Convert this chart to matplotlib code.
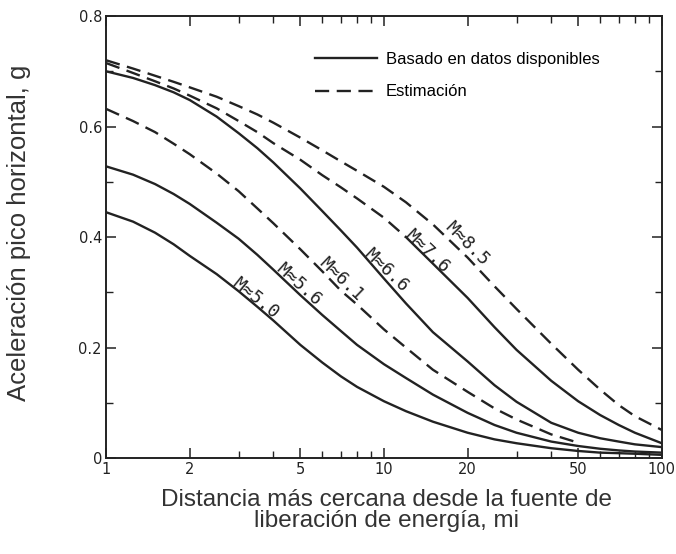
import matplotlib
matplotlib.use("Agg")
import matplotlib.pyplot as plt
from matplotlib.lines import Line2D
from matplotlib.ticker import FixedLocator, NullFormatter

# distance to energy release (mi)
dist = [1, 1.25, 1.5, 1.75, 2, 2.5, 3, 3.5, 4, 5, 6, 7, 8, 10, 12, 15, 20, 25, 30, 40, 50, 60, 70, 80, 100]

# peak horizontal acceleration (g) for each magnitude
acc_50 = [0.445, 0.428, 0.408, 0.387, 0.366, 0.333, 0.302, 0.274, 0.249, 0.205, 0.173, 0.148, 0.129,
          0.103, 0.085, 0.066, 0.046, 0.034, 0.027, 0.018, 0.013, 0.010, 0.009, 0.008, 0.006]
acc_56 = [0.528, 0.513, 0.496, 0.478, 0.460, 0.426, 0.397, 0.368, 0.341, 0.295, 0.259, 0.230, 0.205,
          0.170, 0.145, 0.115, 0.082, 0.060, 0.046, 0.030, 0.022, 0.017, 0.014, 0.012, 0.010]
acc_61 = [0.632, 0.610, 0.590, 0.569, 0.550, 0.515, 0.483, 0.452, 0.425, 0.378, 0.338, 0.303, 0.278,
          0.233, 0.200, 0.160, 0.120, 0.090, 0.070, 0.043, 0.028]
acc_66 = [0.700, 0.688, 0.675, 0.662, 0.648, 0.618, 0.588, 0.561, 0.535, 0.488, 0.447, 0.412, 0.381,
          0.325, 0.280, 0.228, 0.175, 0.132, 0.102, 0.064, 0.046, 0.036, 0.030, 0.025, 0.020]
acc_76 = [0.715, 0.697, 0.682, 0.669, 0.656, 0.633, 0.610, 0.590, 0.570, 0.540, 0.512, 0.490, 0.470,
          0.435, 0.400, 0.352, 0.290, 0.237, 0.196, 0.140, 0.103, 0.078, 0.060, 0.046, 0.027]
acc_85 = [0.720, 0.705, 0.692, 0.681, 0.671, 0.654, 0.637, 0.622, 0.607, 0.580, 0.557, 0.537, 0.520,
          0.491, 0.463, 0.423, 0.363, 0.311, 0.270, 0.207, 0.160, 0.124, 0.096, 0.076, 0.051]

mag_labels = ["M≈5.0", "M≈5.6", "M≈6.1", "M≈6.6", "M≈7.6", "M≈8.5"]
label_pos = [(3.46, 0.290), (4.95, 0.315), (7.0, 0.324), (10.2, 0.340), (14.3, 0.374), (19.9, 0.388)]
label_rot = [-39, -42, -44, -44, -44, -45]

ink = "#222222"
lw = 1.7
dash = (6, 3.2)

fig = plt.figure(figsize=(6.76, 5.54), dpi=100)
ax = fig.add_axes([0.157, 0.173, 0.822, 0.798])

ax.plot(dist, acc_50, color=ink, lw=lw)
ax.plot(dist, acc_56, color=ink, lw=lw)
ax.plot(dist[:len(acc_61)], acc_61, color=ink, lw=lw, dashes=dash)
ax.plot(dist, acc_66, color=ink, lw=lw)
# M 7.6: estimated close in, data-based from ~12 mi out
k = dist.index(12)
ax.plot(dist[:k + 1], acc_76[:k + 1], color=ink, lw=lw, dashes=dash)
ax.plot(dist[k:], acc_76[k:], color=ink, lw=lw)
ax.plot(dist, acc_85, color=ink, lw=lw, dashes=dash)

for txt, (x, y), r in zip(mag_labels, label_pos, label_rot):
    ax.text(x, y, txt, rotation=r, rotation_mode="anchor", ha="center", va="center",
            fontsize=13, family="DejaVu Sans Mono", color=ink)

ax.set_xscale("log")
ax.set_xlim(1, 100)
ax.set_ylim(0, 0.8)

ax.xaxis.set_major_locator(FixedLocator([1, 2, 5, 10, 20, 50, 100]))
ax.set_xticklabels(["1", "2", "5", "10", "20", "50", "100"])
ax.xaxis.set_minor_locator(FixedLocator([3, 4, 6, 7, 8, 9, 30, 40, 60, 70, 80, 90]))
ax.xaxis.set_minor_formatter(NullFormatter())
ax.set_yticks([0, 0.2, 0.4, 0.6, 0.8])
ax.set_yticklabels(["0", "0.2", "0.4", "0.6", "0.8"])
ax.set_yticks([0.1, 0.3, 0.5, 0.7], minor=True)

ax.tick_params(which="both", direction="in", top=True, right=True, color=ink,
               labelsize=10.5, labelcolor=ink, pad=3)
ax.tick_params(which="major", length=7, width=1.1)
ax.tick_params(which="minor", length=5, width=1.0)
for s in ax.spines.values():
    s.set_linewidth(1.4)
    s.set_color(ink)

ax.set_ylabel("Aceleración pico horizontal, g", fontsize=18.5, color="#333333",
              family="Liberation Sans")
ax.yaxis.set_label_coords(-0.136, 0.51)
ax.set_xlabel("Distancia más cercana desde la fuente de\nliberación de energía, mi",
              fontsize=17.5, color="#333333", family="Liberation Sans", linespacing=0.95)
ax.xaxis.set_label_coords(0.505, -0.07)

handles = [Line2D([], [], color=ink, lw=lw),
           Line2D([], [], color=ink, lw=lw, dashes=dash)]
ax.legend(handles, ["Basado en datos disponibles", "Estimación"],
          loc="upper left", bbox_to_anchor=(0.349, 0.953), frameon=False,
          handlelength=3.7, handletextpad=0.55, labelspacing=1.05, borderpad=0.4,
          prop={"family": "Liberation Sans", "size": 12})

fig.savefig("out.png", dpi=100)
